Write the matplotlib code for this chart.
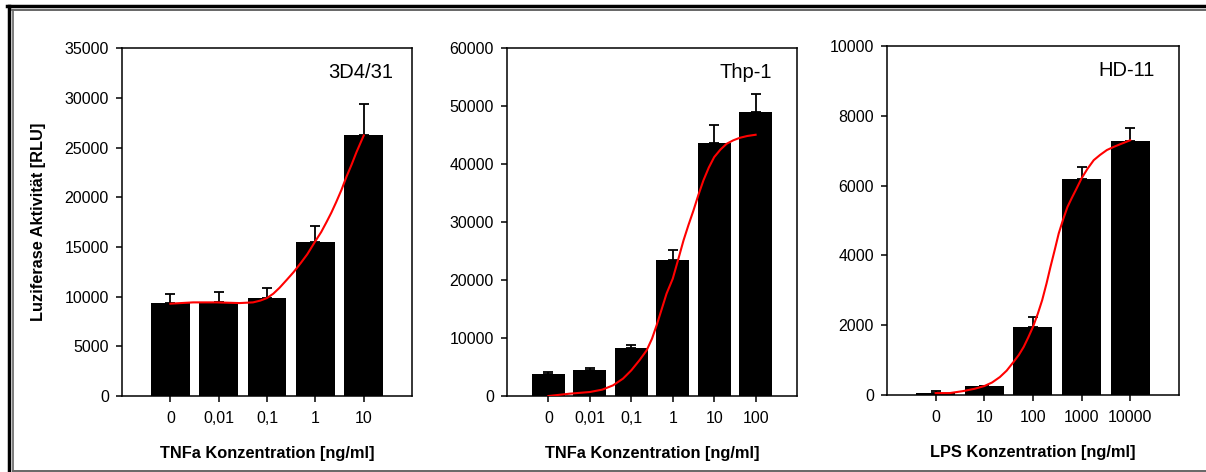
import numpy as np
import matplotlib.pyplot as plt
from matplotlib.lines import Line2D

plt.rcParams['font.family'] = ['Liberation Sans', 'DejaVu Sans']

# 3D4/31 - TNFa
cells_a = "3D4/31"
labels_a = ["0", "0,01", "0,1", "1", "10"]
means_a = [9350, 9450, 9890, 15490, 26220]
errs_a = [940, 970, 1010, 1640, 3120]
fit_x_a = [0, 0.47, 0.95, 1.43, 1.71, 1.86, 2.0, 2.13, 2.26, 2.4, 2.55, 2.7, 2.83, 3.0, 3.12, 3.23, 3.33, 3.43, 3.54, 3.64, 3.75, 3.85, 4.0]
fit_y_a = [9290, 9420, 9420, 9350, 9420, 9600, 9860, 10300, 10900, 11650, 12470, 13400, 14250, 15590, 16500, 17500, 18450, 19510, 20750, 22030, 23300, 24540, 26220]

# Thp-1 - TNFa
cells_b = "Thp-1"
labels_b = ["0", "0,01", "0,1", "1", "10", "100"]
means_b = [3850, 4540, 8280, 23510, 43620, 48910]
errs_b = [290, 290, 460, 1670, 3100, 3220]
fit_x_b = [0, 0.51, 1.0, 1.3, 1.56, 1.8, 2.0, 2.2, 2.37, 2.5, 2.61, 2.73, 2.85, 3.0, 3.13, 3.26, 3.38, 3.5, 3.62, 3.74, 3.87, 4.0, 4.15, 4.3, 4.46, 4.62, 4.8, 5.0]
fit_y_b = [0, 400, 690, 1100, 1840, 3000, 4430, 6200, 7870, 9900, 12180, 14900, 17650, 20230, 23500, 26840, 29500, 32000, 34700, 37180, 39400, 41200, 42500, 43500, 44100, 44540, 44850, 45060]

# HD-11 - LPS
cells_c = "HD-11"
labels_c = ["0", "10", "100", "1000", "10000"]
means_c = [70, 250, 1940, 6180, 7290]
errs_c = [40, 20, 300, 340, 350]
fit_x_c = [0, 0.29, 0.57, 0.8, 1.0, 1.16, 1.32, 1.46, 1.6, 1.71, 1.81, 1.9, 2.0, 2.1, 2.19, 2.28, 2.36, 2.45, 2.53, 2.62, 2.71, 2.8, 2.88, 3.0, 3.12, 3.25, 3.38, 3.52, 3.66, 3.8, 4.0]
fit_y_c = [57, 57, 115, 180, 258, 360, 516, 700, 946, 1150, 1380, 1640, 1950, 2330, 2720, 3200, 3670, 4170, 4630, 5030, 5390, 5650, 5870, 6210, 6480, 6730, 6880, 7020, 7110, 7190, 7300]

panels = [
    (cells_a, labels_a, means_a, errs_a, fit_x_a, fit_y_a, 35000, 5000,
     "TNFa Konzentration [ng/ml]", [0.1012, 0.161, 0.2405, 0.737], 0.935),
    (cells_b, labels_b, means_b, errs_b, fit_x_b, fit_y_b, 60000, 10000,
     "TNFa Konzentration [ng/ml]", [0.4204, 0.161, 0.2405, 0.737], 0.914),
    (cells_c, labels_c, means_c, errs_c, fit_x_c, fit_y_c, 10000, 2000,
     "LPS Konzentration [ng/ml]", [0.7355, 0.163, 0.242, 0.7395], 0.918),
]

fig = plt.figure(figsize=(12.06, 4.72), dpi=100)

for name, labels, means, errs, fx, fy, ymax, ystep, xlabel, rect, tx in panels:
    ax = fig.add_axes(rect)
    x = np.arange(len(labels))
    ax.bar(x, means, width=0.8, color='black', zorder=2)
    ax.errorbar(x, means, yerr=[np.zeros(len(errs)), errs], fmt='none',
                ecolor='black', elinewidth=1.3, capsize=3.6, capthick=1.3, zorder=1)
    ax.plot(fx, fy, color='#ff0000', lw=1.5, zorder=3)
    ax.set_xlim(-1, len(labels))
    ax.set_ylim(0, ymax)
    ax.set_yticks(np.arange(0, ymax + 1, ystep))
    ax.set_xticks(x)
    ax.set_xticklabels(labels)
    ax.tick_params(direction='out', length=4.5, width=1.1, labelsize=11.5, pad=6)
    ax.tick_params(axis='y', pad=5)
    for s in ax.spines.values():
        s.set_linewidth(1.1)
    ax.set_xlabel(xlabel, fontsize=11.8, fontweight='bold', labelpad=15)
    ax.text(tx, 0.93, name, transform=ax.transAxes, ha='right', va='center',
            fontsize=14.5)
    if name == cells_a:
        ax.set_ylabel("Luziferase Aktivität [RLU]", fontsize=11.8,
                      fontweight='bold', labelpad=13)

# double frame round the figure
W, H = 1206, 472
fig.add_artist(Line2D([7 / W, 1], [1 - 5.5 / H, 1 - 5.5 / H], color='black', lw=2.5))
fig.add_artist(Line2D([8.5 / W, 8.5 / W], [1 - 5.5 / H, 0], color='black', lw=2.5))
fig.add_artist(Line2D([12 / W, 1], [1 - 10 / H, 1 - 10 / H], color='#666666', lw=1.4))
fig.add_artist(Line2D([12.5 / W, 12.5 / W], [1 - 10 / H, 1 - 470.5 / H], color='#666666', lw=1.2))
fig.add_artist(Line2D([12.5 / W, 1], [1 - 470.5 / H, 1 - 470.5 / H], color='#666666', lw=1.4))

fig.savefig('out.png', dpi=100)
